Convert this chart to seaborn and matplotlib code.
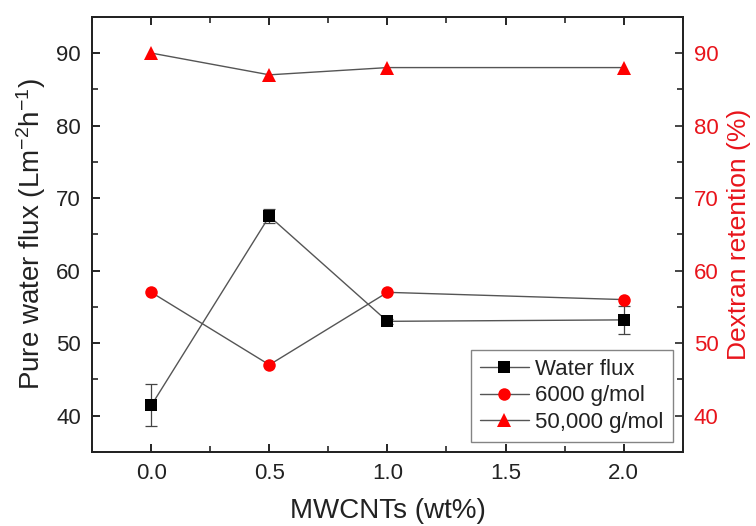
import numpy as np
import pandas as pd
import seaborn as sns
import matplotlib.pyplot as plt
from matplotlib.ticker import MultipleLocator

# Data
mwcnt = [0.0, 0.5, 1.0, 2.0]
water_flux = [41.4, 67.5, 53.0, 53.2]
water_flux_err = [2.9, 1.0, 0.3, 1.9]
ret_6000 = [57.0, 47.0, 57.0, 56.0]
ret_50000 = [90.0, 87.0, 88.0, 88.0]

sns.set_style("ticks")
plt.rcParams['font.family'] = ['Liberation Sans', 'DejaVu Sans']
plt.rcParams['mathtext.fontset'] = 'custom'
plt.rcParams['mathtext.rm'] = 'Liberation Sans'
plt.rcParams['mathtext.it'] = 'Liberation Sans'

df = pd.DataFrame({'x': mwcnt, 'flux': water_flux, 'r6': ret_6000, 'r50': ret_50000})

fig, ax = plt.subplots(figsize=(7.56, 5.26), dpi=100)
fig.subplots_adjust(left=0.122, right=0.903, top=0.968, bottom=0.141)

line_kw = dict(color='#555555', linewidth=1.0, markeredgewidth=0)
ax.errorbar(mwcnt, water_flux, yerr=water_flux_err, fmt='none', ecolor='#444444',
            elinewidth=0.9, capsize=4, capthick=0.9, zorder=2)
sns.lineplot(data=df, x='x', y='flux', ax=ax, marker='s', markersize=8,
             markerfacecolor='black', label='Water flux', zorder=3, **line_kw)
sns.lineplot(data=df, x='x', y='r6', ax=ax, marker='o', markersize=9,
             markerfacecolor='red', label='6000 g/mol', zorder=3, **line_kw)
sns.lineplot(data=df, x='x', y='r50', ax=ax, marker='^', markersize=10,
             markerfacecolor='red', label='50,000 g/mol', zorder=3, **line_kw)

ax.set_xlim(-0.25, 2.25)
ax.set_ylim(35, 95)
ax.xaxis.set_minor_locator(MultipleLocator(0.25))
ax.yaxis.set_minor_locator(MultipleLocator(5))
ax.set_xticks([0.0, 0.5, 1.0, 1.5, 2.0])
ax.set_xticklabels(['0.0', '0.5', '1.0', '1.5', '2.0'])
ax.set_yticks([40, 50, 60, 70, 80, 90])
ax.tick_params(which='major', direction='in', length=6, width=1.2, labelsize=16,
               top=True, pad=8, colors='black', labelcolor='#222222')
ax.tick_params(which='minor', direction='in', length=4, width=1.2, top=True)
ax.tick_params(axis='y', which='both', right=False)

for s in ax.spines.values():
    s.set_linewidth(1.3)
    s.set_color('#222222')

ax.set_xlabel('MWCNTs (wt%)', fontsize=20, color='#222222', labelpad=10)
ax.set_ylabel('Pure water flux (Lm$^{-2}$h$^{-1}$)', fontsize=20, color='#222222', labelpad=6)

ax2 = ax.twinx()
ax2.set_ylim(35, 95)
ax2.yaxis.set_minor_locator(MultipleLocator(5))
ax2.set_yticks([40, 50, 60, 70, 80, 90])
ax2.tick_params(which='major', direction='in', length=6, width=1.2, labelsize=16,
                pad=8, labelcolor='#e8141b')
ax2.tick_params(which='minor', direction='in', length=4, width=1.2)
ax2.set_ylabel('Dextran retention (%)', fontsize=19, color='#e8141b', labelpad=6)
for s in ax2.spines.values():
    s.set_linewidth(1.3)
    s.set_color('#222222')

leg = ax.legend(loc='lower right', bbox_to_anchor=(0.983, 0.023), borderaxespad=0,
                fontsize=16, frameon=True, fancybox=False, edgecolor='#666666',
                handlelength=2.2, handletextpad=0.3, borderpad=0.4, labelspacing=0.25)
leg.get_frame().set_linewidth(1.0)
for t in leg.get_texts():
    t.set_color('#222222')

fig.savefig('out.png', dpi=100)
